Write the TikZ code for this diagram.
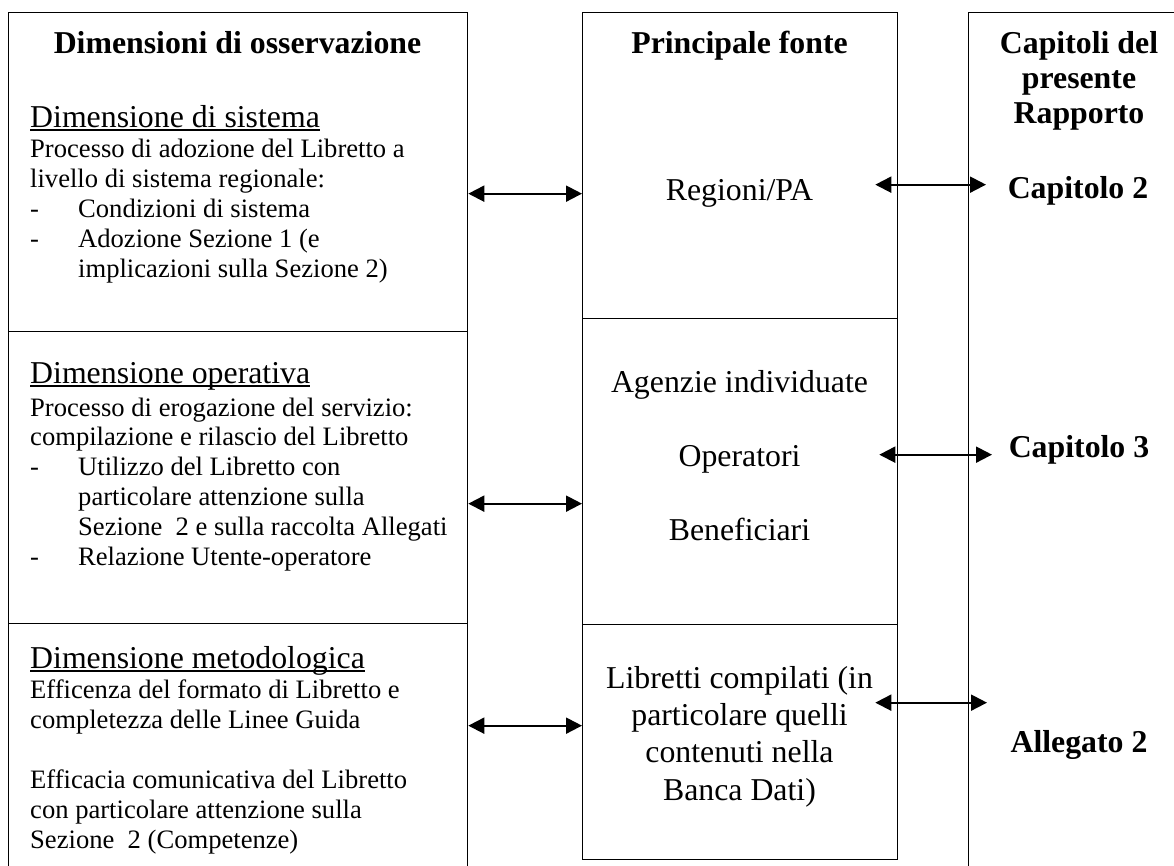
\documentclass[tikz,border=0pt]{standalone}
\usepackage{fontspec}
\setmainfont{Liberation Serif}
\usetikzlibrary{arrows.meta}

\newcommand{\undl}[1]{\setbox0\hbox{#1}\rlap{\rule[-3.6pt]{\wd0}{1.8pt}}\box0}
\newcommand{\dash}{\makebox[48pt][l]{-}}

\begin{document}
\begin{tikzpicture}[
  x=1pt, y=-1pt,
  cell/.style={draw, line width=1.3pt, rectangle, inner sep=0pt, anchor=north west},
  head/.style={font=\fontsize{31.8}{35}\selectfont\bfseries, anchor=base, align=center, inner sep=0pt},
  sub/.style={font=\fontsize{31.8}{36}\selectfont, anchor=base west, inner sep=0pt},
  body/.style={font=\fontsize{26.6}{29.8}\selectfont, anchor=base west, align=left, inner sep=0pt},
  src/.style={font=\fontsize{31.8}{37.3}\selectfont, anchor=base, align=center, inner sep=0pt},
  link/.style={{Triangle[length=16pt,width=16pt]}-{Triangle[length=16pt,width=16pt]}, line width=2pt}
]
\useasboundingbox (0,0) rectangle (1174,865);
\clip (0,0) rectangle (1174,865);

\node[cell, minimum width=459pt, minimum height=319pt] (sys) at (8,12) {};
\node[cell, minimum width=459pt, minimum height=292pt] (ope) at (8,331) {};
\node[cell, minimum width=459pt, minimum height=260pt] (met) at (8,623) {};
\node[cell, minimum width=315pt, minimum height=306pt] (reg) at (582,12) {};
\node[cell, minimum width=315pt, minimum height=306pt] (age) at (582,318) {};
\node[cell, minimum width=315pt, minimum height=235pt] (lib) at (582,624) {};
\node[cell, minimum width=222pt, minimum height=870pt] (cap) at (968,12) {};

\node[head] (tdim) at (237.5,53) {Dimensioni di osservazione};
\node[sub] (hsys) at (30,127) {\undl{Dimensione di sistema}};
\node[body] (bsys) at (30,277) {Processo di adozione del Libretto a\\
  livello di sistema regionale:\\
  \dash Condizioni di sistema\\
  \dash Adozione Sezione 1 (e\\
  \hspace*{48pt}implicazioni sulla Sezione 2)};
\node[sub] (hope) at (30,383) {\undl{Dimensione operativa}};
\node[body] (bope) at (30,565) {Processo di erogazione del servizio:\\
  compilazione e rilascio del Libretto\\
  \dash Utilizzo del Libretto con\\
  \hspace*{48pt}particolare attenzione sulla\\
  \hspace*{48pt}Sezione\ \ 2 e sulla raccolta Allegati\\
  \dash Relazione Utente-operatore};
\node[sub] (hmet) at (30,668) {\undl{Dimensione metodologica}};
\node[body] (bmet) at (30,848) {Efficenza del formato di Libretto e\\
  completezza delle Linee Guida\\[30pt]
  Efficacia comunicativa del Libretto\\
  con particolare attenzione sulla\\
  Sezione\ \ 2 (Competenze)};

\node[head] (tsrc) at (739.5,53) {Principale fonte};
\node[src] (treg) at (739.5,200) {Regioni/PA};
\node[src] (tage) at (739.5,540) {Agenzie individuate\\[36.5pt] Operatori\\[36.5pt] Beneficiari};
\node[src] (tlib) at (739.5,800) {Libretti compilati (in\\ particolare quelli\\ contenuti nella\\ Banca Dati)};

\node[head] (tcap) at (1079,123) {Capitoli del\\ presente\\ Rapporto};
\node[head] (cap2) at (1078,198) {Capitolo 2};
\node[head] (cap3) at (1079,457) {Capitolo 3};
\node[head] (all2) at (1079,752) {Allegato 2};

\draw[link] ([yshift=-21.5pt]sys.east) -- ([yshift=-21.5pt]sys.east -| reg.west);
\draw[link] ([yshift=-26pt]ope.east) -- ([yshift=-26pt]ope.east -| age.west);
\draw[link] ([yshift=28pt]met.east) -- ([yshift=28pt]met.east -| lib.west);

\coordinate (r1) at ([xshift=-23pt,yshift=-19pt]reg.east);
\coordinate (r2) at ([xshift=-19pt,yshift=17pt]age.east);
\coordinate (r3) at ([xshift=-23pt,yshift=39.5pt]lib.east);
\draw[link] (r1) -- ([xshift=18pt]r1 -| cap.west);
\draw[link] (r2) -- ([xshift=24pt]r2 -| cap.west);
\draw[link] (r3) -- ([xshift=19pt]r3 -| cap.west);
\end{tikzpicture}
\end{document}
